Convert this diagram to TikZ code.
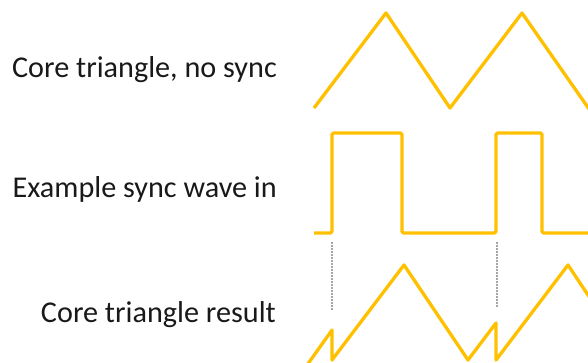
\documentclass[tikz,border=0pt]{standalone}
\usepackage{fontspec}
\setmainfont{Carlito}
\usetikzlibrary{positioning}
\definecolor{gold}{HTML}{FFC000}
\begin{document}
\begin{tikzpicture}[
    x=1pt, y=-1pt,
    wave/.style={draw=gold, line width=3.3pt, line join=round},
    guide/.style={draw=black!35, line width=2pt, dash pattern=on 1.5pt off 1.5pt},
    lbl/.style={anchor=base east, inner sep=0pt, font=\fontsize{30.2}{32}\selectfont, text=black!90}
  ]
    \useasboundingbox (0,0) rectangle (588,362);

    \node[lbl] (core) at (277,77) {Core triangle, no sync};
    \node[lbl] (sync) at (277,197) {Example sync wave in};
    \node[lbl] (res) at (276,322) {Core triangle result};

    % free running triangle
    \draw[wave] (314,108) -- (386,13) -- (450,108) -- (522,13) -- (596,119);

    % sync pulses
    \draw[wave, rounded corners=1.5pt] (314,233) -- (332,233) -- (332,133) -- (402,133) -- (402,233)
      -- (496,233) -- (496,133) -- (542,133) -- (542,233) -- (590,233);

    % reset marks
    \draw[guide] (332,242) -- (332,310);
    \draw[guide] (497,242) -- (497,308);

    % synced triangle
    \draw[wave] (305,368) -- (332,330) -- (332,360) -- (404,265) -- (468,360) -- (496,323)
      -- (496,360) -- (568,265) -- (596,307);
\end{tikzpicture}
\end{document}
